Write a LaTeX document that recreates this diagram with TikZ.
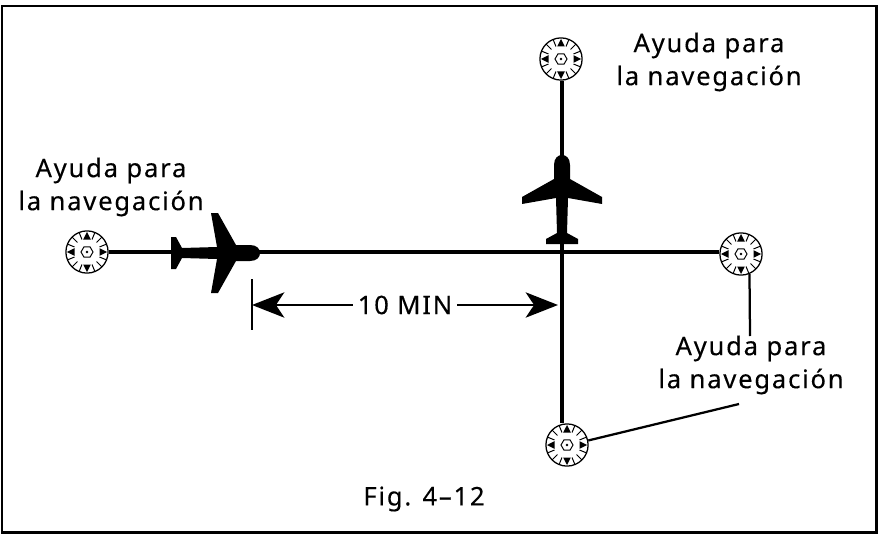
\documentclass[tikz,border=0pt]{standalone}
\usepackage{fontspec}
\setmainfont[LetterSpace=7,FakeBold=.25]{Noto Sans}
\usetikzlibrary{arrows.meta,positioning}
\tikzset{
  wire/.style={line width=2.15pt, draw=black},
  thinwire/.style={line width=1.6pt, draw=black},
  frm/.style={draw=black, line width=2.1pt},
  lbl/.style={align=center, inner sep=0pt, font=\fontsize{18.2}{23.5}\selectfont},
  nav/.style={draw=black, circle, line width=.9pt, fill=white, minimum size=30pt, inner sep=0pt},
  dimar/.style={-{Stealth[length=23pt, width=18pt, inset=6pt]}, thinwire},
  navrose/.pic={
    \foreach \a in {0,90,180,270}{
      \fill[rotate=\a] (12.5,-3.8) -- (20,0) -- (12.5,3.8) -- cycle;
    }
    \foreach \a in {22,45,68,112,135,158,202,225,248,292,315,338}{
      \draw[line width=.7pt] (\a:13.5) -- (\a:21);
    }
    \draw[line width=.7pt] (0:6) -- (60:6) -- (120:6) -- (180:6) -- (240:6) -- (300:6) -- cycle;
    \fill (0,0) circle (1.3);
  },
  plane/.pic={
    \fill (-8,10) .. controls (-8,3) and (-4,0) .. (0,0) .. controls (4,0) and (8,3) .. (8,10)
      -- (8,24) -- (40,42) -- (40,49) -- (6,43) -- (5,78) -- (16,84) -- (16,89)
      -- (-16,89) -- (-16,84) -- (-5,78) -- (-6,43) -- (-40,49) -- (-40,42) -- (-8,24) -- cycle;
  },
}
\begin{document}
\begin{tikzpicture}[x=.025cm, y=-.025cm]
  \useasboundingbox (0,0) rectangle (878,537);
  \draw[frm] (2,6) rectangle (876.5,532.5);

  \node[nav] (navW) at (87,252) {};
  \node[nav] (navN) at (561,59) {};
  \node[nav] (navE) at (741,254) {};
  \node[nav] (navS) at (567,445) {};
  \foreach \n in {navW,navN,navE,navS}{
    \pic at (\n) {navrose};
  }

  \draw[wire] (navW.east) -- (navW -| navE.west);
  \draw[wire] (navN.south -| 562,0) -- (562,0 |- navS.north);

  \pic[rotate=-90] at (260,253) {plane};
  \pic at (562,155) {plane};

  \node[lbl] (lblW) at (111,187) {Ayuda para\\la navegación};
  \node[lbl] (lblN) at (709,62) {Ayuda para\\la navegación};
  \node[lbl] (lblE) at (751,365) {Ayuda para\\la navegación};
  \node[lbl] (dimlbl) at (405,305) {10 MIN};
  \node[lbl] (figlbl) at (424,499) {Fig. 4--12};

  \coordinate (tickT) at (252,279);
  \coordinate (tickB) at (252,330);
  \coordinate (dimL) at (252,305);
  \coordinate (dimR) at (558,305);
  \coordinate (leadE) at (750,336);
  \coordinate (leadS) at (739,404);
  \draw[thinwire] (tickT) -- (tickB);
  \draw[dimar] ([xshift=-3.5pt]dimlbl.west) -- (dimL);
  \draw[dimar] ([xshift=3.5pt]dimlbl.east) -- (dimR);
  \draw[thinwire] (navE.-67) -- (leadE);
  \draw[thinwire] (navS.12) -- (leadS);
\end{tikzpicture}
\end{document}
